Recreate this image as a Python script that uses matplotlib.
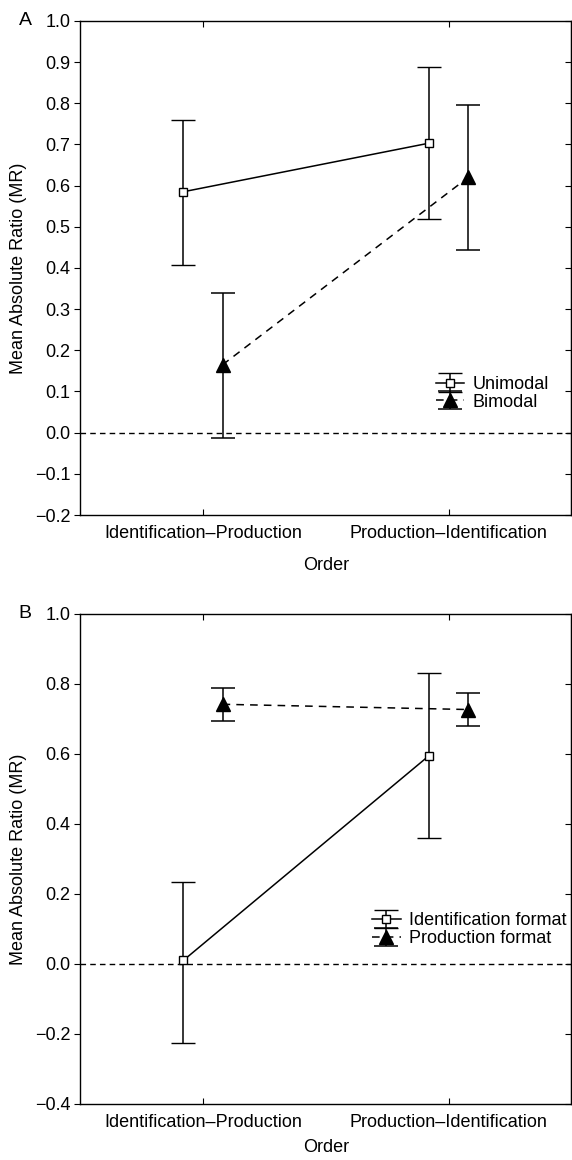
import numpy as np
import matplotlib
matplotlib.use('Agg')
import matplotlib.pyplot as plt

plt.rcParams['font.family'] = ['Liberation Sans', 'DejaVu Sans']

orders = ['Identification\u2013Production', 'Production\u2013Identification']

# panel A: mean and CI bounds
uni_mean = [0.585, 0.703]
uni_lo = [0.407, 0.518]
uni_hi = [0.760, 0.888]
bi_mean = [0.165, 0.620]
bi_lo = [-0.012, 0.443]
bi_hi = [0.340, 0.795]

# panel B
idf_mean = [0.010, 0.595]
idf_lo = [-0.225, 0.360]
idf_hi = [0.235, 0.830]
prf_mean = [0.742, 0.727]
prf_lo = [0.695, 0.680]
prf_hi = [0.788, 0.775]

fig = plt.figure(figsize=(5.72, 11.6), dpi=100)
axA = fig.add_axes([0.14, 0.556, 0.859, 0.426])
axB = fig.add_axes([0.14, 0.0483, 0.859, 0.4224])

x = np.arange(len(orders))
off = 0.08
FS = 13


def draw(ax, m1, lo1, hi1, m2, lo2, hi2, labels, yt, xpad):
    m1, lo1, hi1 = map(np.array, (m1, lo1, hi1))
    m2, lo2, hi2 = map(np.array, (m2, lo2, hi2))
    ax.axhline(0, color='black', ls=(0, (4, 3)), lw=1.0, zorder=1)
    ax.errorbar(x - off, m1, yerr=[m1 - lo1, hi1 - m1], color='black', lw=1.1,
                marker='s', ms=6, mfc='white', mec='black', mew=1.0,
                capsize=8.5, capthick=1.1, label=labels[0], zorder=3)
    ax.errorbar(x + off, m2, yerr=[m2 - lo2, hi2 - m2], color='black', lw=1.1,
                ls=(0, (5, 4)), marker='^', ms=9.5, mfc='black', mec='black',
                capsize=8.5, capthick=1.1, label=labels[1], zorder=3)
    ax.set_xlim(-0.5, 1.5)
    ax.set_ylim(yt[0], yt[-1])
    ax.set_xticks(x)
    ax.set_xticklabels(orders)
    ax.set_yticks(yt)
    ax.set_yticklabels([f'{v:.1f}'.replace('-', '\u2212') for v in yt])
    ax.tick_params(axis='x', direction='in', top=True, length=4, labelsize=FS, pad=7)
    ax.tick_params(axis='y', direction='out', length=4, labelsize=FS, pad=3)
    sec = ax.secondary_yaxis('right')
    sec.set_yticks(yt)
    sec.tick_params(direction='in', length=4, labelright=False)
    ax.set_xlabel('Order', fontsize=FS, labelpad=xpad)
    ax.set_ylabel('Mean Absolute Ratio (MR)', fontsize=FS, labelpad=6)
    for s in ax.spines.values():
        s.set_linewidth(1.0)


draw(axA, uni_mean, uni_lo, uni_hi, bi_mean, bi_lo, bi_hi, ['Unimodal', 'Bimodal'],
     np.round(np.arange(-0.2, 1.01, 0.1), 1), 11)
axA.legend(loc='upper left', bbox_to_anchor=(0.705, 0.30), frameon=False, fontsize=FS,
           handlelength=1.6, handletextpad=0.45, labelspacing=0.05, borderpad=0)
axA.text(-0.125, 1.0, 'A', transform=axA.transAxes, fontsize=14, va='center')

draw(axB, idf_mean, idf_lo, idf_hi, prf_mean, prf_lo, prf_hi,
     ['Identification format', 'Production format'],
     np.round(np.arange(-0.4, 1.01, 0.2), 1), 6)
axB.legend(loc='upper left', bbox_to_anchor=(0.575, 0.41), frameon=False, fontsize=FS,
           handlelength=1.6, handletextpad=0.45, labelspacing=0.05, borderpad=0)
axB.text(-0.125, 1.0, 'B', transform=axB.transAxes, fontsize=14, va='center')

fig.savefig('out.png', dpi=100)
